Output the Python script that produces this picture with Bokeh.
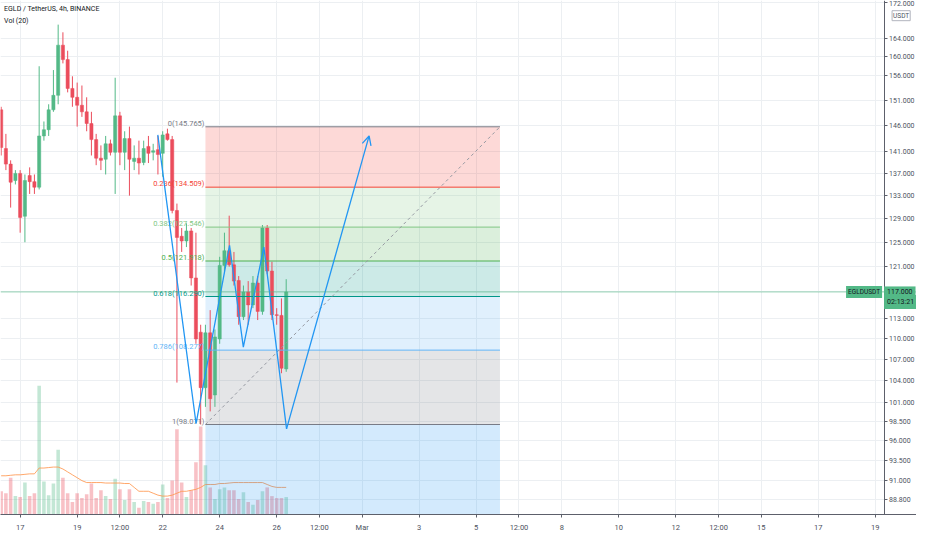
import numpy as np
from bokeh.plotting import figure
from bokeh.models import (Range1d, FixedTicker, PrintfTickFormatter, LinearScale,
                          Label, Arrow, OpenHead, Span)
from bokeh.embed import file_html
from bokeh.resources import INLINE
from bokeh.core.properties import value

# ---------------- data (EGLD / TetherUS, 4h, BINANCE) ----------------
# candle open times, hours since 2021-02-16 00:00 (4h bars)
candle_hours = list(range(8, 252, 4))

opens = [149.1, 141.6, 138.7, 135.7, 137.0, 129.4, 136.6, 135.5, 134.5, 144.0,
         145.2, 149.1, 152.0, 162.5, 159.4, 153.4, 151.6, 150.0, 148.7, 146.4,
         143.3, 139.8, 139.6, 142.5, 140.9, 147.9, 140.9, 143.5, 139.2, 139.8,
         139.0, 142.0, 140.9, 141.4, 140.7, 144.4, 143.3, 130.4, 126.0, 125.2,
         126.9, 119.2, 110.9, 103.0, 110.8, 102.0, 109.9, 121.2, 123.6, 121.3,
         118.8, 113.2, 117.0, 115.0, 118.4, 114.0, 127.4, 120.3, 113.5, 113.4,
         105.6]
highs = [149.7, 144.4, 139.4, 137.6, 137.6, 136.8, 138.1, 136.8, 158.0, 146.8,
         150.2, 157.2, 167.0, 165.3, 161.3, 155.9, 154.6, 154.0, 151.6, 148.7,
         144.4, 142.2, 144.0, 143.3, 155.6, 148.7, 144.9, 145.8, 142.2, 143.1,
         143.1, 144.0, 142.5, 144.0, 144.9, 145.4, 144.0, 131.6, 127.4, 128.2,
         127.4, 126.6, 112.0, 112.0, 114.2, 111.3, 122.6, 126.6, 129.5, 123.4,
         119.5, 118.0, 118.7, 119.5, 119.5, 127.9, 127.9, 121.8, 114.5, 116.0,
         119.0]
lows = [140.3, 137.6, 130.9, 135.0, 126.6, 125.0, 133.3, 133.3, 134.1, 143.1,
        144.0, 148.7, 150.2, 158.6, 152.6, 149.7, 145.8, 147.7, 144.9, 140.3,
        138.5, 137.6, 136.8, 140.3, 133.3, 138.5, 137.6, 133.0, 137.6, 136.8,
        138.5, 138.9, 139.4, 136.8, 136.4, 143.1, 129.9, 103.7, 123.4, 124.2,
        118.0, 109.2, 98.071, 100.4, 99.8, 100.4, 109.2, 120.2, 121.0, 118.0,
        112.0, 112.7, 112.0, 114.5, 112.7, 113.5, 119.8, 112.7, 112.0, 105.0,
        105.2]
closes = [141.8, 138.7, 135.4, 137.0, 129.2, 135.7, 135.5, 134.5, 144.0, 145.2,
          149.1, 152.0, 162.5, 159.4, 153.4, 151.6, 150.0, 148.7, 146.4, 143.3,
          139.8, 139.4, 142.5, 140.9, 147.9, 140.9, 143.5, 139.6, 139.8, 138.9,
          141.6, 140.7, 141.2, 140.5, 144.2, 143.3, 130.4, 125.8, 125.2, 126.9,
          119.2, 109.9, 103.0, 110.8, 101.5, 110.2, 121.2, 123.6, 121.3, 118.7,
          113.2, 117.0, 115.0, 118.4, 114.0, 127.4, 120.3, 113.5, 113.4, 105.7,
          117.0]
# volume (thousand EGLD) and its 20-period moving average as shown
volumes = [24, 22, 38, 19, 18, 33, 19, 22, 133, 34,
           20, 32, 67, 38, 22, 13, 22, 17, 21, 32,
           17, 25, 19, 16, 37, 26, 15, 26, 13, 7,
           14, 13, 11, 13, 31, 17, 35, 88, 33, 18,
           25, 54, 91, 51, 28, 16, 26, 28, 25, 25,
           16, 23, 13, 10, 15, 24, 28, 19, 17, 17, 18]
vol_ma = [40, 40, 40.5, 41, 41, 41.5, 42, 42, 48, 48,
          48.5, 49, 49, 47, 44, 41, 38, 35, 33, 33,
          33, 33, 32.5, 32.5, 32.5, 32.5, 32, 32, 28, 24,
          24, 24, 22, 20, 19, 19, 20, 22, 24, 24,
          25, 26, 28, 31, 31, 31, 32, 32, 32.5, 33,
          33, 33, 33, 33, 33, 33, 31, 29, 28, 28, 28]
last_price = 117.0
countdown = "02:13:21"

# Fibonacci retracement drawing
fib_start_hour = 180
fib_end_hour = 428
fib_levels = ["0", "0.236", "0.382", "0.5", "0.618", "0.786", "1", "1.618"]
fib_prices = [145.765, 134.509, 127.546, 121.918, 116.290, 108.277, 98.071, 68.596]
fib_colors = ["#787b86", "#f44336", "#81c784", "#4caf50", "#009688", "#64b5f6", "#787b86", "#2196f3"]

# hand-drawn projection path
path_hours = [139.9, 172.1, 200.3, 211.9, 229.2, 248.3, 317.8]
path_prices = [144.2, 98.2, 124.5, 108.7, 124.2, 97.5, 144.0]

# axes
x_tick_hours = [24, 72, 108, 144, 192, 240, 276, 312, 360, 408, 444, 480, 528, 576, 612, 648, 696, 744]
x_tick_labels = ["17", "19", "12:00", "22", "24", "26", "12:00", "Mar", "3", "5", "12:00",
                 "8", "10", "12", "12:00", "15", "17", "19"]
y_ticks = [172, 164, 160, 156, 151, 146, 141, 137, 133, 129, 125, 121, 113,
           110, 107, 104, 101, 98.5, 96, 93.5, 91, 88.8]
grid_y_ticks = y_ticks + [117]

UP = "#53b987"
DOWN = "#eb4d5c"
FONT = "Roboto"
TXT = "#4c525e"
X_START = 7.45
X_AXIS = 751.4      # time at which the price scale sits
X_END = 778.7       # right edge of the window (price-scale labels area)

# ---------------- figure ----------------
p = figure(width=916, height=534, output_backend="svg", toolbar_location=None,
           x_range=Range1d(X_START, X_END), y_range=Range1d(87.0, 172.45),
           y_axis_type="log", y_axis_location="right",
           min_border_left=0, min_border_top=0, min_border_right=0, min_border_bottom=0)
p.outline_line_color = None
p.background_fill_color = "white"
p.extra_y_ranges = {"vol": Range1d(0, 531)}
p.extra_y_scales = {"vol": LinearScale()}


def style_axis(ax, size):
    ax.axis_line_color = "#5d606b"
    ax.major_tick_line_color = "#5d606b"
    ax.major_tick_out = 3
    ax.major_tick_in = 0
    ax.minor_tick_line_color = None
    ax.major_label_text_font = FONT
    ax.major_label_text_font_size = size
    ax.major_label_text_color = TXT
    ax.major_label_standoff = 3


yax = p.yaxis[0]
yax.ticker = FixedTicker(ticks=y_ticks)
yax.formatter = PrintfTickFormatter(format="%.3f")
yax.fixed_location = X_AXIS
style_axis(yax, "7px")
yax.major_label_standoff = 2
p.xaxis.ticker = FixedTicker(ticks=x_tick_hours)
p.xaxis.major_label_overrides = {h: t for h, t in zip(x_tick_hours, x_tick_labels)}
style_axis(p.xaxis[0], "7.5px")
p.xaxis.major_label_standoff = 5
p.xgrid.ticker = FixedTicker(ticks=x_tick_hours)
p.ygrid.ticker = FixedTicker(ticks=grid_y_ticks)
p.xgrid.grid_line_color = "#eceff2"
p.ygrid.grid_line_color = "#eceff2"
if hasattr(p.ygrid[0], "cross_bounds"):
    p.ygrid[0].cross_bounds = (X_START, X_AXIS)

# ---------------- volume ----------------
hours = np.array(candle_hours, dtype=float)
o = np.array(opens); c = np.array(closes)
h = np.array(highs); l = np.array(lows)
up = c >= o
bar_colors = [UP if u else DOWN for u in up]
p.vbar(x=hours, top=volumes, bottom=0, width=3.0, fill_color=bar_colors,
       fill_alpha=0.35, line_color=None, y_range_name="vol")
p.line(x=hours, y=vol_ma, line_color="#ff9850", line_width=1, line_alpha=0.85,
       y_range_name="vol")

# ---------------- fib zones ----------------
for i in range(len(fib_prices) - 1):
    p.quad(left=[fib_start_hour], right=[fib_end_hour], top=[fib_prices[i]],
           bottom=[fib_prices[i + 1]], fill_color=fib_colors[i + 1], fill_alpha=0.2,
           line_color=None)

# ---------------- candles ----------------
p.segment(x0=hours, x1=hours, y0=l, y1=h, line_color=bar_colors, line_width=1)
p.vbar(x=hours, top=np.maximum(o, c), bottom=np.minimum(o, c), width=2.7,
       fill_color=bar_colors, line_color=bar_colors, line_width=0.5)

# ---------------- fib lines and labels ----------------
for i in range(len(fib_prices) - 1):
    p.segment(x0=[fib_start_hour], x1=[fib_end_hour], y0=[fib_prices[i]], y1=[fib_prices[i]],
              line_color=fib_colors[i], line_width=1)
fib_texts = [f"{lv}({pr:.3f})" for lv, pr in zip(fib_levels[:-1], fib_prices[:-1])]
p.text(x=[fib_start_hour] * len(fib_texts), y=fib_prices[:-1], text=fib_texts,
       text_color=fib_colors[:-1], text_align="right", text_baseline="bottom",
       text_font=value(FONT), text_font_size="7.5px", x_offset=-1, y_offset=1)
p.line(x=[fib_start_hour, fib_end_hour], y=[fib_prices[6], fib_prices[0]],
       line_color="#9598a1", line_width=1, line_dash="3 3")

# ---------------- projection path ----------------
p.line(x=path_hours[:-1], y=path_prices[:-1], line_color="#2196f3", line_width=1.3)
p.add_layout(Arrow(x_start=path_hours[-2], y_start=path_prices[-2],
                   x_end=path_hours[-1], y_end=path_prices[-1],
                   line_color="#2196f3", line_width=1.3,
                   end=OpenHead(size=9, line_color="#2196f3", line_width=1.3)))

# ---------------- last price line + price-scale tags ----------------
p.add_layout(Span(location=last_price, dimension="width", line_color=UP,
                  line_alpha=0.6, line_width=1))
p.add_layout(Label(x=X_AXIS, y=last_price, text="EGLDUSDT", text_align="right",
                   text_baseline="middle", text_font=FONT, text_font_size="6.5px",
                   text_color="#131722", background_fill_color=UP,
                   x_offset=-2, padding=2))
p.add_layout(Label(x=X_AXIS, y=last_price, text=countdown, text_align="left",
                   text_baseline="middle", text_font=FONT, text_font_size="7px",
                   text_color="#131722", background_fill_color=UP,
                   x_offset=0, y_offset=-10, padding=3))
p.add_layout(Label(x=X_AXIS, y=last_price, text=f"{last_price:.3f}", text_align="left",
                   text_baseline="middle", text_font=FONT, text_font_size="7px",
                   text_color="#131722", background_fill_color=UP,
                   x_offset=0, padding=3))
p.add_layout(Label(x=X_AXIS, y=169.0, text="USDT", text_align="left",
                   text_baseline="middle", text_font=FONT, text_font_size="6.5px",
                   text_color=TXT, background_fill_color="white",
                   border_line_color="#b2b5be", x_offset=8, padding=1))

# ---------------- legend texts ----------------
p.add_layout(Label(x=10.5, y=170.6, text="EGLD / TetherUS, 4h, BINANCE",
                   text_baseline="middle", text_font=FONT, text_font_size="7px",
                   text_color="#131722"))
p.add_layout(Label(x=10.5, y=167.7, text="Vol (20)",
                   text_baseline="middle", text_font=FONT, text_font_size="7px",
                   text_color="#131722"))

open("out.html", "w").write(file_html(p, INLINE))
